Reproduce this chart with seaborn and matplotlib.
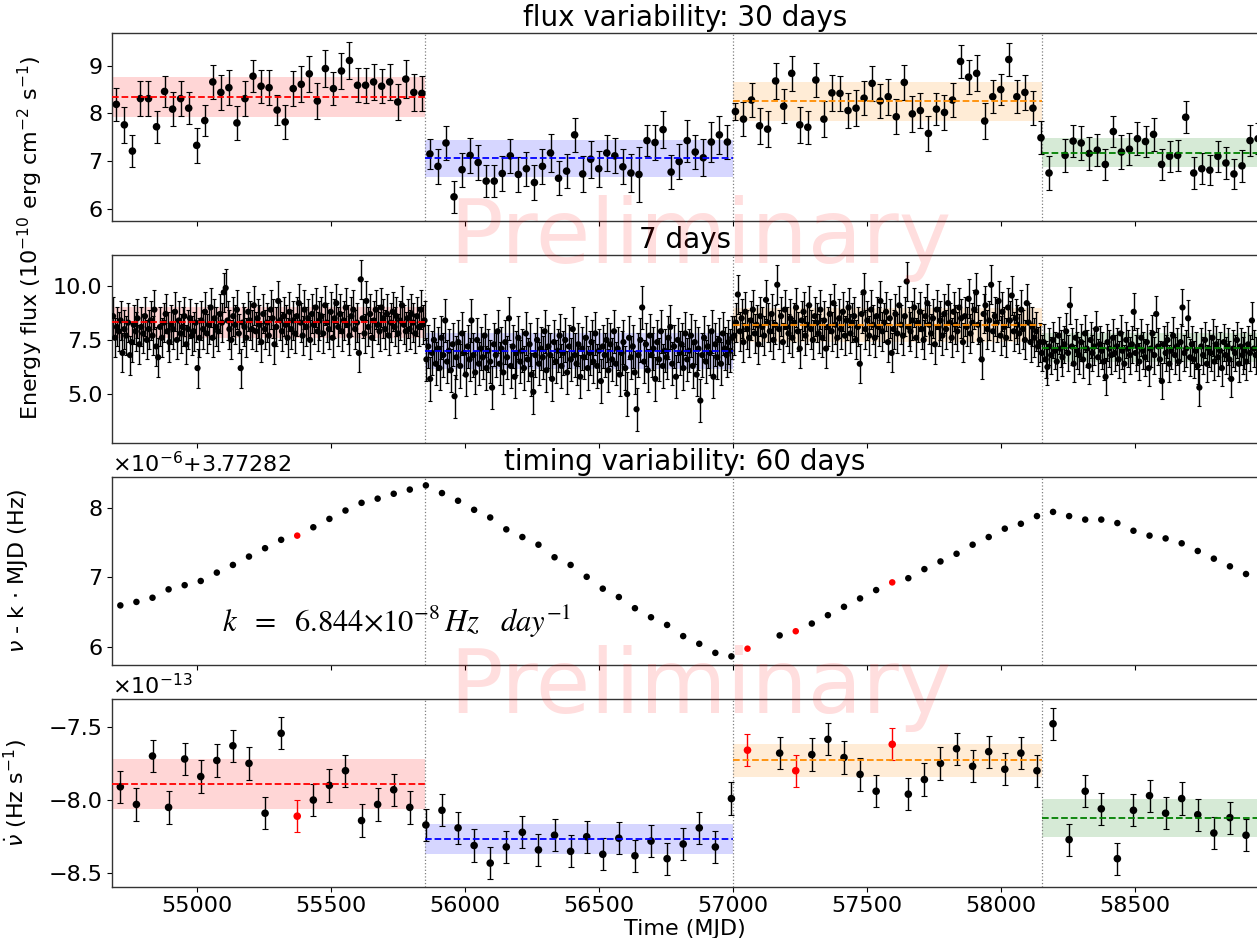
import numpy as np
import pandas as pd
import matplotlib
matplotlib.use("Agg")
import matplotlib.pyplot as plt
import seaborn as sns

# ---------------- data ----------------
# 30-day flux bins (1e-10 erg cm^-2 s^-1), one list per segment
flux30_start = 54698
flux30_step = 30
flux30_seg1 = [8.19, 7.76, 7.21, 8.31, 8.31, 7.72, 8.46, 8.09, 8.31, 8.11, 7.33, 7.85, 8.66,
               8.44, 8.54, 7.80, 8.31, 8.78, 8.57, 8.54, 8.07, 7.82, 8.52, 8.61, 8.83, 8.26,
               8.94, 8.52, 8.89, 9.11, 8.59, 8.59, 8.66, 8.57, 8.66, 8.24, 8.72, 8.44, 8.42]
flux30_seg2 = [7.15, 6.89, 7.38, 6.25, 6.82, 7.12, 6.97, 6.58, 6.58, 6.74, 7.11, 6.72, 6.84,
               6.55, 6.89, 7.17, 6.64, 6.79, 7.55, 6.73, 7.04, 6.84, 7.17, 7.11, 6.88, 6.75,
               6.72, 7.43, 7.39, 7.66, 6.77, 6.99, 7.43, 7.19, 7.07, 7.40, 7.55, 7.40]
flux30_seg3 = [8.04, 7.88, 8.28, 7.74, 7.67, 8.68, 8.15, 8.84, 7.76, 7.71, 8.70, 7.88, 8.43,
               8.42, 8.06, 8.11, 8.32, 8.63, 8.26, 8.35, 7.93, 8.65, 7.99, 8.06, 7.58, 8.09,
               8.02, 8.28, 9.09, 8.76, 8.84, 7.84, 8.35, 8.50, 9.13, 8.35, 8.44, 8.11]
flux30_seg4 = [7.49, 6.75, np.nan, 7.12, 7.42, 7.38, 7.16, 7.23, 6.93, 7.62, 7.19, 7.25, 7.47,
               7.41, 7.56, 6.93, 7.10, 7.12, 7.92, 6.75, 6.84, 6.81, 7.10, 6.96, 6.73, 6.90,
               7.43, 7.47]
flux30_err1 = [0.34, 0.38, 0.33, 0.37, 0.36, 0.34, 0.33, 0.36, 0.37, 0.34, 0.37, 0.33, 0.35,
               0.36, 0.37, 0.35, 0.37, 0.34, 0.35, 0.37, 0.32, 0.35, 0.36, 0.38, 0.38, 0.37,
               0.38, 0.35, 0.38, 0.38, 0.36, 0.37, 0.37, 0.36, 0.37, 0.37, 0.40, 0.38, 0.36]
flux30_err2 = [0.32, 0.36, 0.36, 0.33, 0.36, 0.36, 0.36, 0.34, 0.34, 0.36, 0.35, 0.36, 0.36,
               0.37, 0.36, 0.40, 0.36, 0.36, 0.35, 0.37, 0.39, 0.38, 0.38, 0.37, 0.37, 0.40,
               0.58, 0.33, 0.37, 0.39, 0.36, 0.37, 0.44, 0.36, 0.39, 0.42, 0.40, 0.36]
flux30_err3 = [0.17, 0.36, 0.36, 0.38, 0.38, 0.37, 0.36, 0.36, 0.38, 0.35, 0.36, 0.37, 0.37,
               0.36, 0.36, 0.38, 0.35, 0.36, 0.36, 0.38, 0.37, 0.37, 0.38, 0.36, 0.36, 0.34,
               0.37, 0.35, 0.34, 0.35, 0.38, 0.37, 0.35, 0.33, 0.34, 0.35, 0.37, 0.35]
flux30_err4 = [0.35, 0.35, np.nan, 0.35, 0.33, 0.36, 0.35, 0.34, 0.33, 0.33, 0.35, 0.33, 0.34,
               0.33, 0.35, 0.33, 0.32, 0.33, 0.33, 0.33, 0.33, 0.32, 0.33, 0.33, 0.32, 0.33,
               0.33, 0.33]

# 7-day flux bins, one list per segment
flux7_start = 54686
flux7_step = 7
flux7_seg1 = [8.6, 7.6, 8.1, 7.9, 8.4, 6.9, 8.0, 7.7, 8.3, 6.8,
              7.4, 8.2, 7.9, 8.5, 7.3, 8.1, 7.8, 8.6, 7.5, 8.0,
              8.4, 7.7, 8.9, 7.2, 6.7, 8.1, 7.6, 8.3, 8.7, 7.9,
              7.4, 8.2, 8.0, 8.8, 7.5, 8.4, 7.8, 8.1, 8.6, 7.3,
              8.0, 8.5, 7.7, 7.9, 8.3, 6.2, 7.6, 8.4, 8.0, 8.8,
              7.8, 8.2, 9.0, 7.6, 8.5, 8.1, 7.9, 8.7, 8.3, 9.7,
              9.9, 8.4, 8.0, 7.5, 8.6, 8.2, 8.9, 7.8, 6.2, 8.3,
              8.1, 7.6, 8.8, 8.4, 8.0, 9.1, 7.9, 8.5, 8.2, 7.4,
              8.7, 8.0, 8.3, 7.7, 8.9, 8.5, 7.3, 8.1, 9.3, 8.4,
              7.9, 8.6, 8.2, 7.6, 8.8, 8.0, 8.4, 7.8, 8.6, 9.2,
              8.3, 7.7, 8.9, 8.1, 8.5, 7.5, 8.7, 8.2, 9.0, 7.9,
              8.4, 8.6, 7.8, 9.1, 8.3, 8.0, 8.8, 7.6, 8.5, 9.2,
              8.1, 8.7, 7.9, 8.4, 9.0, 8.2, 7.7, 8.6, 8.9, 8.0,
              8.3, 6.9, 10.3, 8.5, 7.8, 9.3, 8.1, 8.7, 7.6, 8.4,
              8.9, 8.2, 7.9, 9.0, 8.5, 8.0, 8.7, 7.7, 8.3, 8.8,
              8.1, 8.6, 7.8, 8.4, 9.1, 8.2, 7.9, 8.5, 8.0, 8.7,
              8.3, 7.8, 8.6, 8.1, 8.9, 8.2, 8.4]
flux7_seg2 = [6.6, 7.2, 5.7, 6.9, 7.5, 6.4, 7.1, 6.2, 7.6, 6.8,
              8.4, 6.5, 7.0, 6.1, 7.3, 4.9, 6.7, 7.4, 6.3, 7.8,
              6.9, 5.9, 7.2, 6.6, 8.4, 6.8, 6.0, 7.5, 6.4, 7.1,
              6.7, 7.7, 6.2, 7.0, 6.5, 5.3, 7.3, 6.8, 7.9, 6.4,
              7.1, 6.0, 7.4, 6.7, 8.5, 6.3, 7.2, 5.8, 6.9, 7.6,
              6.5, 7.0, 6.2, 7.8, 6.6, 7.3, 5.9, 5.1, 6.8, 7.5,
              6.4, 7.1, 6.7, 7.9, 6.1, 7.2, 6.8, 5.7, 7.4, 6.5,
              7.0, 7.7, 6.3, 6.9, 7.5, 6.0, 7.2, 6.6, 8.0, 6.8,
              6.4, 7.3, 5.8, 7.1, 6.7, 7.6, 6.2, 6.9, 7.4, 6.5,
              7.8, 6.3, 7.0, 5.6, 7.2, 6.8, 7.5, 6.1, 7.3, 6.6,
              7.9, 6.4, 7.1, 5.9, 6.9, 7.4, 6.2, 5.0, 7.6, 6.7,
              7.2, 6.0, 4.3, 6.8, 7.5, 9.0, 6.5, 7.3, 6.1, 7.7,
              6.8, 7.1, 5.7, 7.4, 6.6, 7.9, 6.3, 7.0, 6.7, 7.6,
              8.1, 6.4, 7.2, 5.8, 7.5, 6.9, 7.3, 6.2, 7.8, 6.6,
              7.0, 7.7, 6.3, 7.4, 5.9, 7.1, 4.7, 6.8, 7.6, 6.5,
              7.2, 6.9, 7.9, 5.8, 7.3, 6.7, 7.5, 6.4, 7.8, 7.1,
              6.8, 7.4, 7.0, 7.6]
flux7_seg3 = [7.7, 8.3, 9.6, 7.9, 8.5, 7.4, 8.8, 8.0, 7.6, 8.4,
              8.9, 7.8, 8.2, 7.3, 8.6, 8.1, 7.7, 9.35, 8.3, 7.9,
              8.7, 7.5, 8.2, 10.05, 8.0, 8.6, 7.4, 8.9, 8.1, 7.8,
              8.5, 7.6, 8.3, 9.0, 7.9, 7.1, 8.4, 8.8, 7.7, 8.2,
              9.1, 8.0, 7.5, 8.6, 8.3, 7.8, 8.9, 7.6, 8.4, 7.1,
              8.1, 8.7, 7.9, 9.2, 8.2, 7.6, 8.5, 8.0, 8.8, 7.7,
              8.4, 9.0, 7.8, 8.3, 8.6, 7.5, 8.1, 6.4, 8.7, 9.7,
              8.0, 8.4, 7.7, 8.9, 8.2, 7.6, 8.6, 8.1, 9.3, 7.9,
              8.3, 8.8, 7.4, 8.5, 6.9, 8.0, 8.7, 7.8, 9.1, 8.2,
              7.7, 8.6, 10.2, 8.1, 7.9, 8.4, 9.0, 7.6, 8.3, 8.8,
              8.0, 7.5, 8.6, 9.2, 8.2, 7.8, 8.5, 7.3, 8.9, 8.1,
              8.4, 7.7, 8.7, 8.0, 9.2, 8.3, 7.6, 8.8, 8.2, 7.9,
              9.0, 8.5, 7.4, 8.6, 8.1, 9.4, 7.8, 8.3, 8.9, 9.7,
              8.2, 7.5, 6.6, 8.7, 9.1, 8.0, 8.4, 10.05, 7.9, 8.6,
              8.3, 9.3, 7.7, 8.8, 8.1, 7.6, 9.0, 8.4, 9.55, 7.9,
              8.5, 8.2, 7.8, 8.9, 8.0, 7.5, 9.2, 8.3, 7.4, 8.1,
              7.6, 7.9, 7.2, 7.4]
flux7_seg4 = [6.9, 7.4, 6.6, 6.25, 7.2, 6.8, 7.5, 7.0, 6.5, 7.7,
              7.1, 6.7, 7.3, 7.9, 6.9, 9.1, 7.2, 6.4, 7.6, 7.0,
              6.8, 7.4, 6.6, 7.8, 7.1, 6.3, 7.5, 6.9, 7.2, 8.0,
              6.7, 7.3, 7.0, 6.5, 5.8, 7.4, 7.1, 6.8, 7.6, 6.9,
              7.2, 6.6, 7.8, 7.0, 6.4, 7.5, 7.1, 6.8, 7.3, 8.8,
              6.9, 7.2, 6.5, 7.6, 7.0, 6.7, 7.4, 6.2, 7.1, 7.8,
              6.8, 8.7, 7.2, 6.6, 5.6, 7.3, 6.9, 7.5, 6.4, 7.0,
              7.7, 6.8, 7.2, 6.5, 7.4, 9.0, 6.9, 7.1, 8.5, 6.7,
              7.3, 6.6, 7.0, 6.3, 5.3, 7.2, 6.8, 7.5, 6.4, 7.1,
              6.9, 7.6, 6.5, 7.3, 6.7, 7.0, 6.2, 7.4, 6.8, 7.2,
              6.6, 5.7, 7.1, 6.9, 7.5, 6.4, 7.2, 6.8, 7.0, 6.5,
              7.3, 6.9, 8.4, 7.1, 6.8]
flux7_seg_err = [0.90, 1.00, 0.90, 0.85]

# segment boundaries (MJD)
seg_edges = [55850, 57000, 58150]
seg_colors = ["red", "blue", "darkorange", "green"]

flux30_mean = [8.35, 7.06, 8.25, 7.18]
flux30_band = [0.42, 0.39, 0.40, 0.30]
flux7_mean = [8.32, 6.98, 8.19, 7.15]
flux7_band = [0.72, 0.83, 0.77, 0.65]

# 60-day timing solutions (nu - k*MJD, units 1e-6 Hz, offset 3.77282 Hz)
timing_start = 54713
timing_step = 60
nu_vals = [6.60, 6.65, 6.71, 6.83, 6.89, 6.95, 7.07, 7.18, 7.30, 7.42, 7.54, 7.60, 7.72,
           7.84, 7.96, 8.07, 8.13, 8.20, 8.26, 8.32, 8.21, 8.10, 7.97, 7.86, 7.69, 7.58,
           7.47, 7.29, 7.18, 7.01, 6.84, 6.72, 6.56, 6.43, 6.32, 6.16, 6.05, 5.92, 5.87,
           5.98, np.nan, 6.17, 6.23, 6.34, 6.46, 6.58, 6.70, 6.82, 6.93, 6.99, 7.12, 7.23,
           7.34, 7.47, 7.58, 7.70, 7.77, 7.88, 7.94, 7.88, 7.83, 7.83, 7.78, 7.67, 7.60,
           7.56, 7.49, 7.38, 7.27, 7.16, 7.05]
# nu-dot (units 1e-13 Hz s^-1)
nudot_vals = [-7.91, -8.03, -7.70, -8.05, -7.72, -7.84, -7.73, -7.63, -7.75, -8.09, -7.545,
              -8.11, -8.00, -7.90, -7.80, -8.14, -8.03, -7.93, -8.05, -8.17, -8.07, -8.19,
              -8.31, -8.43, -8.32, -8.22, -8.34, -8.24, -8.35, -8.25, -8.37, -8.26, -8.38,
              -8.28, -8.40, -8.30, -8.19, -8.32, -7.99, -7.66, np.nan, -7.68, -7.80, -7.69,
              -7.586, -7.71, -7.825, -7.94, -7.62, -7.96, -7.86, -7.75, -7.65, -7.77, -7.67,
              -7.79, -7.68, -7.80, -7.48, -8.27, -7.94, -8.06, -8.40, -8.07, -7.97, -8.09,
              -7.99, -8.10, -8.225, -8.12, -8.24]
nudot_err = [0.11, 0.11, 0.11, 0.11, 0.11, 0.11, 0.11, 0.11, 0.11, 0.11, 0.11, 0.11, 0.11,
             0.11, 0.11, 0.11, 0.11, 0.11, 0.11, 0.11, 0.11, 0.11, 0.11, 0.11, 0.11, 0.11,
             0.11, 0.11, 0.11, 0.11, 0.11, 0.11, 0.11, 0.11, 0.11, 0.11, 0.11, 0.11, 0.11,
             0.11, np.nan, 0.11, 0.11, 0.11, 0.11, 0.11, 0.11, 0.11, 0.11, 0.11, 0.11, 0.11,
             0.11, 0.11, 0.11, 0.11, 0.11, 0.11, 0.11, 0.11, 0.11, 0.11, 0.11, 0.11, 0.11,
             0.11, 0.11, 0.11, 0.11, 0.11, 0.11]
timing_red_idx = [11, 39, 42, 48]

nudot_mean = [-7.89, -8.265, -7.73, -8.12]
nudot_band = [0.17, 0.105, 0.114, 0.13]

titles = ["flux variability: 30 days", "7 days", "timing variability: 60 days", ""]
xlim = (54683, 58954)
xticks = [55000, 55500, 56000, 56500, 57000, 57500, 58000, 58500]

# ---------------- style ----------------
sns.set_theme(style="ticks")
plt.rcParams.update({
    "font.family": ["DejaVu Sans"],
    "text.color": "black", "axes.labelcolor": "black",
    "xtick.color": "black", "ytick.color": "black",
    "xtick.labelsize": 16, "ytick.labelsize": 16,
    "axes.labelsize": 16, "axes.titlesize": 20,
    "xtick.major.size": 3.5, "ytick.major.size": 3.5,
    "xtick.major.width": 0.8, "ytick.major.width": 0.8,
    "xtick.major.pad": 3.5, "ytick.major.pad": 3.5,
    "axes.edgecolor": "#333333", "axes.linewidth": 1.0,
    "mathtext.fontset": "dejavusans",
})

fig = plt.figure(figsize=(12.57, 9.38), dpi=100)
W, H = 1257.0, 938.0
left = 112.3 / W
width = 1.0 - left
tops = [33.3, 255.3, 477.3, 699.3]
bottoms = [220.7, 443.0, 665.0, 886.7]
axes = []
for t, b in zip(tops, bottoms):
    ax = fig.add_axes([left, 1 - b / H, width, (b - t) / H])
    axes.append(ax)

seg_lo = [xlim[0]] + seg_edges
seg_hi = seg_edges + [xlim[1]]


def draw_bands(ax, means, bands):
    for lo, hi, m, bw, c in zip(seg_lo, seg_hi, means, bands, seg_colors):
        ax.fill_between([lo, hi], m - bw, m + bw, color=c, alpha=0.16, lw=0, zorder=1)
        ax.hlines(m, lo, hi, colors=c, linestyles="--", lw=1.3, zorder=4)


def err_points(ax, df, ycol, ms, capsize, elw):
    ax.errorbar(df["t"], df[ycol], yerr=df["e"], fmt="none", ecolor="black",
                elinewidth=elw, capsize=capsize, capthick=0.8, zorder=2)
    sns.scatterplot(data=df, x="t", y=ycol, ax=ax, color="black", s=ms,
                    edgecolor="none", zorder=3)


# panel 1: 30-day flux
ax = axes[0]
f30 = flux30_seg1 + flux30_seg2 + flux30_seg3 + flux30_seg4
e30 = flux30_err1 + flux30_err2 + flux30_err3 + flux30_err4
t30 = flux30_start + flux30_step * np.arange(len(f30))
draw_bands(ax, flux30_mean, flux30_band)
df30 = pd.DataFrame({"t": t30, "f": f30, "e": e30}).dropna()
err_points(ax, df30, "f", 30, 2, 1.0)
ax.set_ylim(5.75, 9.68)
ax.set_yticks([6, 7, 8, 9])

# panel 2: 7-day flux
ax = axes[1]
segs7 = [flux7_seg1, flux7_seg2, flux7_seg3, flux7_seg4]
f7 = sum(segs7, [])
e7 = sum([[e] * len(s) for s, e in zip(segs7, flux7_seg_err)], [])
t7 = flux7_start + flux7_step * np.arange(len(f7))
draw_bands(ax, flux7_mean, flux7_band)
df7 = pd.DataFrame({"t": t7, "f": f7, "e": e7})
err_points(ax, df7, "f", 20, 1.5, 1.0)
ax.set_ylim(2.74, 11.41)
ax.set_yticks([5.0, 7.5, 10.0])
ax.set_yticklabels(["5.0", "7.5", "10.0"])

# panel 3: timing
ax = axes[2]
tt = timing_start + timing_step * np.arange(len(nu_vals))
dft = pd.DataFrame({"t": tt, "nu": nu_vals, "nd": nudot_vals, "e": nudot_err})
dft["red"] = False
dft.loc[timing_red_idx, "red"] = True
dft = dft.dropna()
sns.scatterplot(data=dft, x="t", y="nu", hue="red", palette={False: "black", True: "red"},
                ax=ax, s=22, edgecolor="none", legend=False, zorder=3)
ax.set_ylim(5.746, 8.436)
ax.set_yticks([6, 7, 8])
ax.text(55093, 6.36, r"$k\ \ =\ \ 6.844{\times}10^{-8}\,Hz\ \ \ day^{-1}$", fontsize=22,
        math_fontfamily="stix", va="center", ha="left")
ax.text(0.0, 1.005, r"$\times10^{-6}$+3.77282", transform=ax.transAxes, fontsize=16,
        ha="left", va="bottom")

# panel 4: nu-dot
ax = axes[3]
draw_bands(ax, nudot_mean, nudot_band)
blk = dft[~dft["red"]]
red = dft[dft["red"]]
ax.errorbar(blk["t"], blk["nd"], yerr=blk["e"], fmt="none", ecolor="black", elinewidth=1,
            capsize=2, capthick=0.8, zorder=2)
ax.errorbar(red["t"], red["nd"], yerr=red["e"], fmt="none", ecolor="red", elinewidth=1,
            capsize=2, capthick=0.8, zorder=2)
sns.scatterplot(data=dft, x="t", y="nd", hue="red", palette={False: "black", True: "red"},
                ax=ax, s=30, edgecolor="none", legend=False, zorder=3)
ax.set_ylim(-8.591, -7.313)
ax.set_yticks([-8.5, -8.0, -7.5])
ax.text(0.0, 1.005, r"$\times10^{-13}$", transform=ax.transAxes, fontsize=16,
        ha="left", va="bottom")

for i, ax in enumerate(axes):
    ax.set_xlim(*xlim)
    ax.set_xticks(xticks)
    ax.spines["right"].set_visible(False)
    for e in seg_edges:
        ax.axvline(e, color="gray", ls=":", lw=0.9, zorder=1.5)
    ax.set_xlabel("")
    ax.set_ylabel("")
    if titles[i]:
        ax.set_title(titles[i], pad=5)
    if i < 3:
        ax.tick_params(labelbottom=False)

axes[3].set_xlabel("Time (MJD)", labelpad=2)
axes[2].set_ylabel(r"$\nu$ - k $\cdot$ MJD (Hz)")
axes[3].set_ylabel(r"$\dot{\nu}$ (Hz s$^{-1}$)")
axes[2].yaxis.set_label_coords(-0.072, 0.5)
axes[3].yaxis.set_label_coords(-0.072, 0.5)
fig.text(30 / W, 1 - 238 / H, r"Energy flux (10$^{-10}$ erg cm$^{-2}$ s$^{-1}$)",
         rotation=90, fontsize=16, ha="center", va="center")

for yb in [263, 713]:
    fig.text(700 / W, 1 - yb / H, "Preliminary", fontsize=64, color="red", alpha=0.13,
             ha="center", va="baseline", zorder=10)

fig.savefig("out.png", dpi=100)
